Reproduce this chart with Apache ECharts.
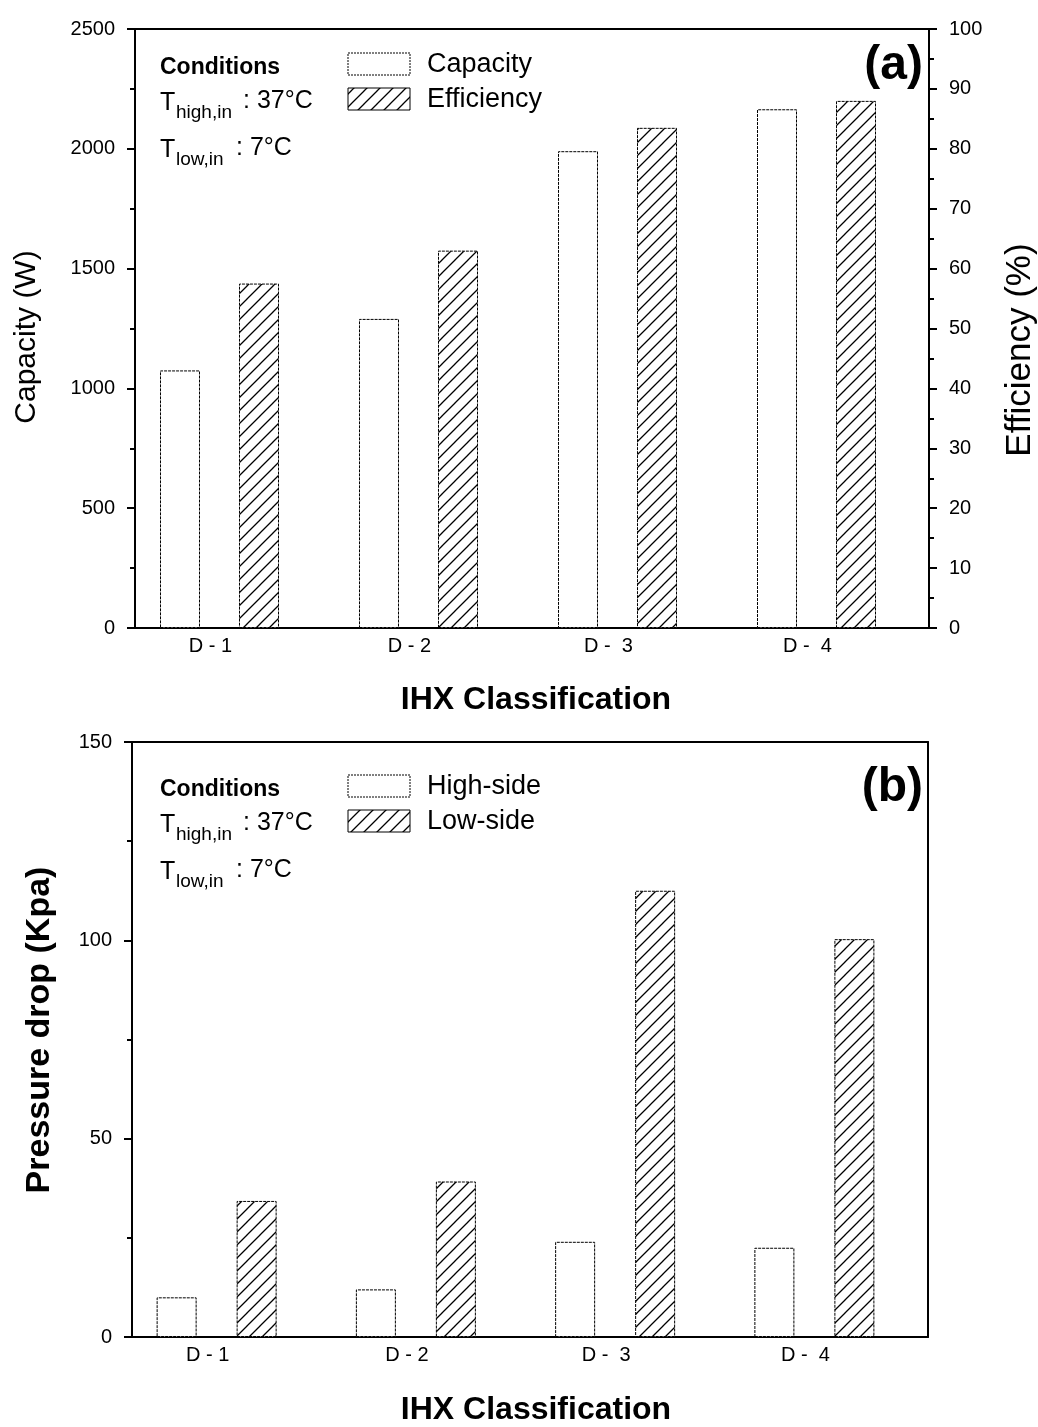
<!DOCTYPE html>
<html>
<head>
<meta charset="utf-8">
<script src="https://cdn.jsdelivr.net/npm/echarts@6/dist/echarts.min.js"></script>
<style>
html, body { margin: 0; padding: 0; background: #fff; }
#chart { width: 1038px; height: 1427px; }
</style>
</head>
<body>
<div id="chart"></div>
<script>
// data
const categories = ['D - 1', 'D - 2', 'D -  3', 'D -  4'];
const capacity = [1075, 1290, 1990, 2165];        // W
const efficiency = [57.5, 63, 83.5, 88];          // %
const highSide = [10, 12, 24, 22.5];              // kPa
const lowSide = [34.3, 39.2, 112.5, 100.3];       // kPa
const capacityRange = [0, 2500, 500];
const efficiencyRange = [0, 100, 10];
const pressureRange = [0, 150, 50];

const FONT = '"Liberation Sans", Arial, Helvetica, sans-serif';

// diagonal hatch tile
function makeHatch(size) {
    const c = document.createElement('canvas');
    c.width = size;
    c.height = size;
    const ctx = c.getContext('2d');
    ctx.fillStyle = '#fff';
    ctx.fillRect(0, 0, size, size);
    ctx.strokeStyle = '#000';
    ctx.lineWidth = 1.3;
    ctx.beginPath();
    ctx.moveTo(-2, size + 2);
    ctx.lineTo(size + 2, -2);
    ctx.moveTo(-2, 2);
    ctx.lineTo(2, -2);
    ctx.moveTo(size - 2, size + 2);
    ctx.lineTo(size + 2, size - 2);
    ctx.stroke();
    return c;
}
const hatch = makeHatch(13);
const hatchFill = { image: hatch, repeat: 'repeat' };

const lineStyle = { color: '#000', width: 2 };

function frameX(grid, pos) {
    return {
        gridIndex: grid, type: 'value', min: 0, max: 1, position: pos,
        axisLine: { show: true, onZero: false, lineStyle: lineStyle },
        axisTick: { show: false }, axisLabel: { show: false }, splitLine: { show: false }
    };
}

function catX(grid) {
    return {
        gridIndex: grid, type: 'category', data: categories,
        axisLine: { show: false, onZero: false }, axisTick: { show: false }, splitLine: { show: false },
        axisLabel: { fontSize: 20, color: '#000', fontFamily: FONT, margin: 8, padding: [0, 18, 0, 0] }
    };
}

function valueY(grid, range, pos) {
    return {
        gridIndex: grid, type: 'value', min: range[0], max: range[1], interval: range[2],
        position: pos,
        axisLine: { show: true, onZero: false, lineStyle: lineStyle },
        axisTick: { show: true, length: 8, lineStyle: lineStyle },
        minorTick: { show: true, splitNumber: 2, length: 5, lineStyle: lineStyle },
        axisLabel: { fontSize: 20, color: '#000', fontFamily: FONT, margin: 20, formatter: v => String(v) },
        splitLine: { show: false }
    };
}

function hiddenY(grid, range) {
    return { gridIndex: grid, type: 'value', min: range[0], max: range[1], show: false };
}

function text(x, y, str, size, opts) {
    opts = opts || {};
    return {
        type: 'text', x: x, y: y, rotation: opts.rotation || 0, silent: true,
        style: {
            text: str, fontSize: size, fontFamily: FONT,
            fontWeight: opts.bold ? 'bold' : 'normal', fill: '#000',
            align: opts.align || 'left', verticalAlign: 'middle'
        }
    };
}

function legendBox(x, y, hatched) {
    return {
        type: 'rect', silent: true,
        shape: { x: x, y: y, width: 62, height: 22 },
        style: { fill: hatched ? hatchFill : '#fff', stroke: '#000', lineWidth: 1, lineDash: hatched ? null : [2, 1] }
    };
}

// condition texts + legend + panel label, dy shifts to panel (b)
function annotations(dy, names, panel) {
    return [
        text(160, 68 + dy, 'Conditions', 23, { bold: true }),
        text(160, 103 + dy, 'T', 25),
        text(176, 113 + dy, 'high,in', 19),
        text(243, 101 + dy, ': 37°C', 25),
        text(160, 150 + dy, 'T', 25),
        text(176, 160 + dy, 'low,in', 19),
        text(236, 148 + dy, ': 7°C', 25),
        legendBox(348, 53 + dy, false),
        legendBox(348, 88 + dy, true),
        text(427, 65 + dy, names[0], 27),
        text(427, 100 + dy, names[1], 27),
        text(923, 66 + dy, panel, 48, { bold: true, align: 'right' })
    ];
}

const chart = echarts.init(document.getElementById('chart'));

const option = {
    animation: false,
    backgroundColor: '#fff',
    grid: [
        { left: 135, top: 29, width: 794, height: 599 },   // frame (a)
        { left: 120, top: 29, width: 796, height: 599 },   // bars (a)
        { left: 132, top: 742, width: 796, height: 595 },  // frame (b)
        { left: 117, top: 742, width: 797, height: 595 }   // bars (b)
    ],
    xAxis: [
        frameX(0, 'bottom'), frameX(0, 'top'), catX(1),
        frameX(2, 'bottom'), frameX(2, 'top'), catX(3)
    ],
    yAxis: [
        valueY(0, capacityRange, 'left'),
        valueY(0, efficiencyRange, 'right'),
        hiddenY(1, capacityRange),
        hiddenY(1, efficiencyRange),
        valueY(2, pressureRange, 'left'),
        {
            gridIndex: 2, type: 'value', min: pressureRange[0], max: pressureRange[1], position: 'right',
            axisLine: { show: true, onZero: false, lineStyle: lineStyle }, axisTick: { show: false },
            axisLabel: { show: false }, splitLine: { show: false }
        },
        hiddenY(3, pressureRange)
    ],
    series: [
        {
            name: 'Capacity', type: 'bar', xAxisIndex: 2, yAxisIndex: 2, data: capacity,
            barWidth: 40, barGap: '97.5%', silent: true,
            itemStyle: { color: '#fff', borderColor: '#000', borderWidth: 1, borderType: [3, 1] }
        },
        {
            name: 'Efficiency', type: 'bar', xAxisIndex: 2, yAxisIndex: 3, data: efficiency,
            barWidth: 40, barGap: '97.5%', silent: true,
            itemStyle: { color: hatchFill, borderColor: '#000', borderWidth: 1, borderType: [3, 1] }
        },
        {
            name: 'High-side', type: 'bar', xAxisIndex: 5, yAxisIndex: 6, data: highSide,
            barWidth: 40, barGap: '100%', silent: true,
            itemStyle: { color: '#fff', borderColor: '#000', borderWidth: 1, borderType: [3, 1] }
        },
        {
            name: 'Low-side', type: 'bar', xAxisIndex: 5, yAxisIndex: 6, data: lowSide,
            barWidth: 40, barGap: '100%', silent: true,
            itemStyle: { color: hatchFill, borderColor: '#000', borderWidth: 1, borderType: [3, 1] }
        }
    ],
    graphic: [].concat(
        annotations(0, ['Capacity', 'Efficiency'], '(a)'),
        annotations(722, ['High-side', 'Low-side'], '(b)'),
        [
            text(27, 337, 'Capacity (W)', 30, { align: 'center', rotation: Math.PI / 2 }),
            text(1020, 350, 'Efficiency (%)', 35, { align: 'center', rotation: Math.PI / 2 }),
            text(40, 1030, 'Pressure drop (Kpa)', 34, { bold: true, align: 'center', rotation: Math.PI / 2 }),
            text(536, 700, 'IHX Classification', 32, { bold: true, align: 'center' }),
            text(536, 1410, 'IHX Classification', 32, { bold: true, align: 'center' })
        ]
    )
};

chart.setOption(option);
</script>
</body>
</html>
